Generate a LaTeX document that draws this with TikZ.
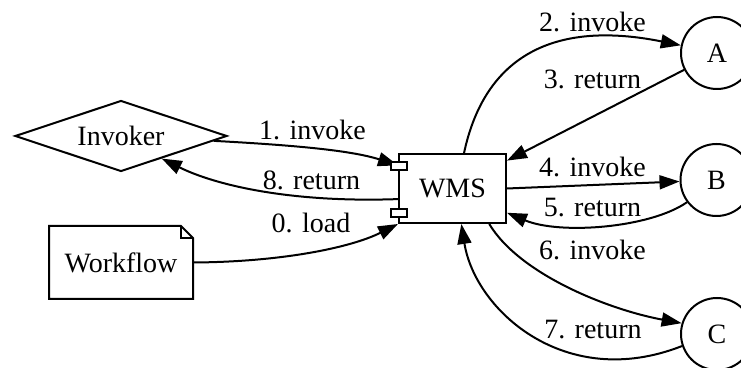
\documentclass[tikz,border=0pt]{standalone}
\usepackage{fontspec}
\setmainfont{Liberation Serif}
\usetikzlibrary{shapes.geometric,arrows.meta}
\begin{document}
\begin{tikzpicture}[x=0.5pt,y=-0.5pt,
  font=\fontsize{14pt}{16pt}\selectfont,
  line width=1pt,
  every node/.style={inner sep=0pt},
  flow/.style={-{Triangle[length=10pt,width=7pt]}},
  lbl/.style={anchor=base},
  port/.style={draw,fill=white,minimum width=8pt,minimum height=4pt},
  actor/.style={circle,draw,minimum size=36pt}]
  % canvas
  \fill[white] (0,0) rectangle (741,368);
  \useasboundingbox (0,0) rectangle (741,368);

  % main nodes
  \node[diamond,draw,aspect=3,minimum width=106pt,minimum height=35.5pt] (inv) at (121,136) {Invoker};
  \node[rectangle,draw,minimum width=53.5pt,minimum height=34.5pt] (wms) at (452.5,188.5) {WMS};
  \node[minimum width=71pt,minimum height=35.5pt] (wf) at (121,262.5) {Workflow};
  \draw (wf.north west) -- ([xshift=-6pt]wf.north east) -- ([yshift=-6pt]wf.north east)
        -- (wf.south east) -- (wf.south west) -- cycle;
  \draw ([xshift=-6pt]wf.north east) |- ([yshift=-6pt]wf.north east);
  \node[actor] (a) at (717,53) {A};
  \node[actor] (b) at (716.5,180) {B};
  \node[actor] (c) at (717,334) {C};

  % connectors
  \draw[flow] (inv.-3) .. controls (290,145) and (350,150) .. (wms.157);
  \draw[flow] (wms.191) .. controls (290,203) and (215,185) .. (inv.-29);
  \draw[flow] (wf.east) .. controls (280,262) and (350,248) .. (wms.south west);
  \draw[flow] (wms.72) .. controls (485,55) and (555,20) .. (a.168);
  \draw[flow] (a) -- (wms);
  \draw[flow] (wms.east) -- (b);
  \draw[flow] (b.217) .. controls (650,228) and (560,235) .. (wms.-24);
  \draw[flow] (wms.-44) .. controls (520,275) and (610,310) .. (c.163);
  \draw[flow] (c.199) .. controls (565,392) and (475,310) .. (wms.-76);

  % component ports drawn over the arrow ends
  \node[port] (p1) at (399,166) {};
  \node[port] (p2) at (399,213) {};

  % connector labels
  \node[lbl] (l0) at (311,233) {0. load};
  \node[lbl] (l1) at (312.5,140) {1. invoke};
  \node[lbl] (l2) at (592.5,32) {2. invoke};
  \node[lbl] (l3) at (592.5,89) {3. return};
  \node[lbl] (l4) at (592.5,177) {4. invoke};
  \node[lbl] (l5) at (592.5,217) {5. return};
  \node[lbl] (l6) at (592.5,260) {6. invoke};
  \node[lbl] (l7) at (593,339) {7. return};
  \node[lbl] (l8) at (311.5,190) {8. return};
\end{tikzpicture}
\end{document}
